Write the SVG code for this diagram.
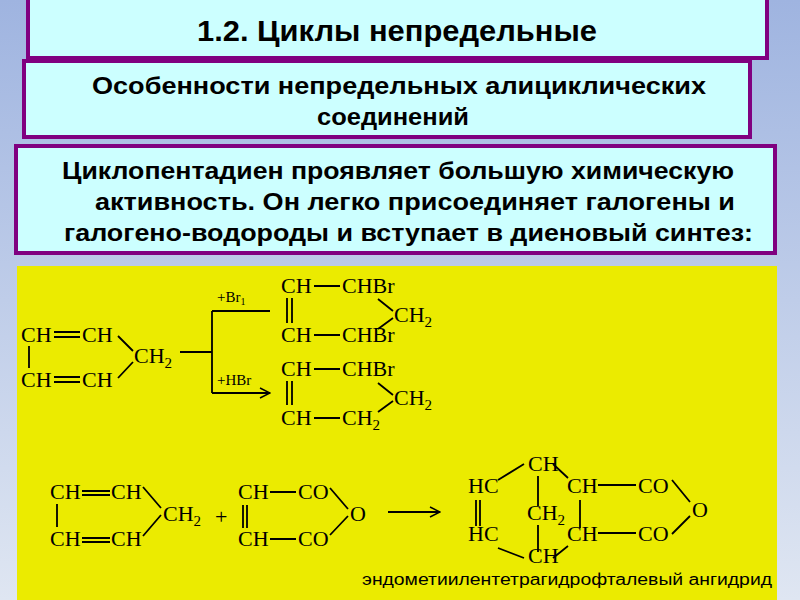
<svg xmlns="http://www.w3.org/2000/svg" width="800" height="600" viewBox="0 0 800 600">
<defs>
<linearGradient id="bg" x1="0" y1="0" x2="0" y2="1"><stop offset="0" stop-color="#9fb4e0"/><stop offset="1" stop-color="#dfe6f2"/></linearGradient>
<marker id="ah" viewBox="0 0 12 12" refX="11" refY="6" markerWidth="12" markerHeight="12" markerUnits="userSpaceOnUse" orient="auto"><path d="M1,1 L11,6 L1,11" fill="none" stroke="#000" stroke-width="1.5"/></marker>
<style>
.box{fill:#ccffff;stroke:#800080;stroke-width:4}
.h{font-family:"Liberation Sans Narrow","Liberation Sans",Arial,sans-serif;font-weight:bold;fill:#000}
.c{font-family:"Liberation Serif","Times New Roman",serif;font-size:22px;fill:#000}
.s{font-size:15px}
.b{stroke:#000;stroke-width:1.8;fill:none}
</style>
</defs>
<rect width="800" height="600" fill="url(#bg)"/>
<g id="title"><rect class="box" x="28" y="-3" width="739" height="61"/><text class="h" x="197" y="41" font-size="29" textLength="400" lengthAdjust="spacingAndGlyphs">1.2. Циклы непредельные</text></g>
<g id="subtitle"><rect class="box" x="24" y="61" width="726" height="76"/><text class="h" x="92" y="94" font-size="24" textLength="614" lengthAdjust="spacingAndGlyphs">Особенности непредельных алициклических</text><text class="h" x="317" y="125" font-size="24" textLength="152" lengthAdjust="spacingAndGlyphs">соединений</text></g>
<g id="desc"><rect class="box" x="16" y="146" width="759" height="107"/><text class="h" x="62" y="179" font-size="24" textLength="672" lengthAdjust="spacingAndGlyphs">Циклопентадиен проявляет большую химическую</text><text class="h" x="95" y="210" font-size="24" textLength="640" lengthAdjust="spacingAndGlyphs">активность. Он легко присоединяет галогены и</text><text class="h" x="64" y="241" font-size="24" textLength="689" lengthAdjust="spacingAndGlyphs">галогено-водороды и вступает в диеновый  синтез:</text></g>
<rect id="panel" x="17" y="266" width="760" height="334" fill="#ebeb00"/>
<g id="r1">
<text class="c" x="21" y="342">CH</text><text class="c" x="82" y="342">CH</text>
<text class="c" x="21" y="387">CH</text><text class="c" x="82" y="387">CH</text>
<text class="c" x="134" y="363">CH<tspan class="s" dy="5">2</tspan></text>
<text class="c" x="281" y="293">CH</text><text class="c" x="342" y="293">CHBr</text>
<text class="c" x="394" y="322">CH<tspan class="s" dy="5">2</tspan></text>
<text class="c" x="281" y="342">CH</text><text class="c" x="342" y="342">CHBr</text>
<text class="c" x="281" y="376">CH</text><text class="c" x="342" y="376">CHBr</text>
<text class="c" x="394" y="405">CH<tspan class="s" dy="5">2</tspan></text>
<text class="c" x="281" y="425">CH</text><text class="c" x="342" y="425">CH<tspan class="s" dy="5">2</tspan></text>
<text class="c s" x="217" y="302">+Br<tspan font-size="10" dy="3">1</tspan></text>
<text class="c s" x="217" y="385">+HBr</text>
</g>
<g id="r2">
<text class="c" x="50" y="499">CH</text><text class="c" x="111" y="499">CH</text>
<text class="c" x="50" y="546">CH</text><text class="c" x="111" y="546">CH</text>
<text class="c" x="163" y="521">CH<tspan class="s" dy="5">2</tspan></text>
<text class="c" x="215" y="524">+</text>
<text class="c" x="238" y="499">CH</text><text class="c" x="298" y="499">CO</text>
<text class="c" x="238" y="546">CH</text><text class="c" x="298" y="546">CO</text>
<text class="c" x="350" y="521">O</text>
<text class="c" x="528" y="471">CH</text>
<text class="c" x="468" y="493">HC</text><text class="c" x="567" y="493">CH</text><text class="c" x="638" y="493">CO</text>
<text class="c" x="692" y="517">O</text>
<text class="c" x="527" y="520">CH<tspan class="s" dy="5">2</tspan></text>
<text class="c" x="468" y="541">HC</text><text class="c" x="567" y="541">CH</text><text class="c" x="638" y="541">CO</text>
<text class="c" x="528" y="563">CH</text>
<text x="362" y="585" font-family="'Liberation Sans',Arial,sans-serif" font-size="16" textLength="410" lengthAdjust="spacingAndGlyphs">эндометиилентетрагидрофталевый ангидрид</text>
</g>
<g id="bonds">
<path class="b" d="M54,332H80M54,337H80M54,377H80M54,382H80M29,346V368M118,336L133,351M118,378L133,362"/>
<path class="b" d="M180,352H212M212,311V393"/>
<path class="b" marker-end="url(#ah)" d="M212,311H270M212,393H270"/>
<path class="b" d="M314,286H340M314,335H340M287,298V323M292,298V323M378,299L393,311M393,318L378,329"/>
<path class="b" d="M314,369H340M314,418H340M287,381V405M292,381V405M378,383L393,395M393,401L378,412"/>
<path class="b" d="M82,491H110M82,495H110M82,538H110M82,542H110M57,504V527M143,487L161,508M161,515L143,536"/>
<path class="b" d="M270,492H296M270,539H296M243,505V528M247,505V528M330,488L348,509M348,516L330,535"/>
<path class="b" marker-end="url(#ah)" d="M388,512H440"/>
<path class="b" d="M498,480L524,464M553,464L568,478M538,476V506M538,525V552M498,548L524,558M553,558L568,546M476,500V526M480,500V526M580,500V528M598,485H636M598,533H636M672,480L690,502M690,516L672,534"/>
</g>
</svg>
